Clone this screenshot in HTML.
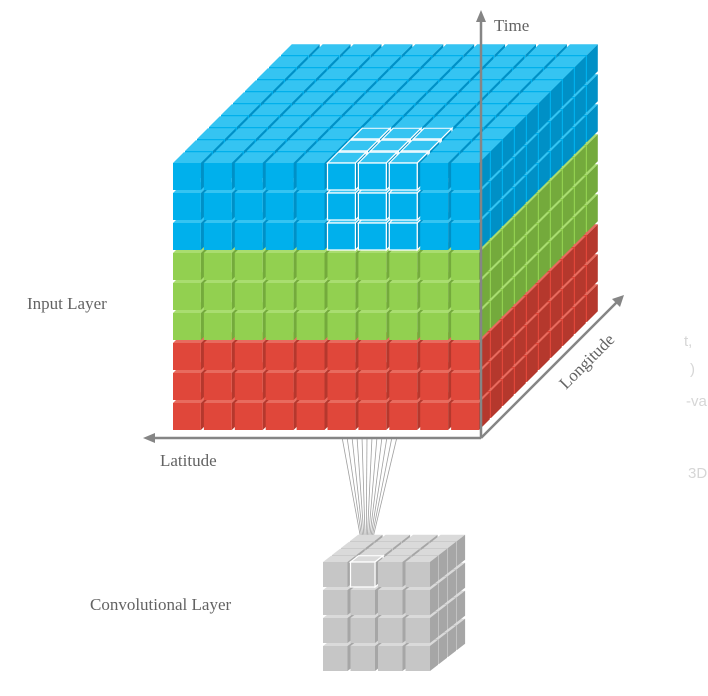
<!DOCTYPE html>
<html><head><meta charset="utf-8"><style>
html,body{margin:0;padding:0;background:#fff;width:708px;height:696px;overflow:hidden}
svg{display:block}
text{font-family:"Liberation Serif",serif;fill:#636363}
</style></head><body>
<svg id="s" width="708" height="696">
  <g id="big"></g>
  <g id="fan"></g>
  <g id="small"></g>
  <g stroke="#858585" stroke-width="2.5" fill="none">
    <line x1="481" y1="20" x2="481" y2="438"/>
    <line x1="152" y1="438" x2="481" y2="438"/>
    <line x1="481" y1="438" x2="617" y2="302"/>
  </g>
  <polygon points="481,10 476,22 486,22" fill="#858585"/>
  <polygon points="143,438 155,433 155,443" fill="#858585"/>
  <polygon points="624,295 612,299 620,307" fill="#858585"/>
  <text x="494" y="31" font-size="17">Time</text>
  <text x="160" y="466" font-size="17">Latitude</text>
  <text x="0" y="0" font-size="17" transform="translate(566,390) rotate(-45)">Longitude</text>
  <text x="27" y="309" font-size="17">Input Layer</text>
  <text x="90" y="610" font-size="17">Convolutional Layer</text>
  <g font-size="15">
    <text x="684" y="346" style="fill:#d6d6d6;font-family:'Liberation Sans',sans-serif">t,</text>
    <text x="690" y="374" style="fill:#d6d6d6;font-family:'Liberation Sans',sans-serif">)</text>
    <text x="686" y="406" style="fill:#d6d6d6;font-family:'Liberation Sans',sans-serif">-va</text>
    <text x="688" y="478" style="fill:#d6d6d6;font-family:'Liberation Sans',sans-serif">3D</text>
  </g>
</svg>
<script>
const NS="http://www.w3.org/2000/svg";
const layerColors=["blue","blue","blue","green","green","green","red","red","red"];
const highlightCols=[5,6,7];
const highlightRows=[0,1,2];
const highlightDepth=[0,1,2];
const pal={blue:["#00b0ec","#35c4f2","#0090c6"],green:["#92d050","#a9dd70","#74aa3c"],red:["#e0473a","#e86b5e","#b5382d"],gray:["#c6c6c6","#dadada","#a6a6a6"]};
function poly(g,pts,fill,stroke,name){
  const p=document.createElementNS(NS,"polygon");
  p.setAttribute("points",pts.map(q=>q[0].toFixed(1)+","+q[1].toFixed(1)).join(" "));
  p.setAttribute("fill",fill);
  if(stroke){p.setAttribute("stroke",stroke);p.setAttribute("stroke-width","1.2");}
  
  
  g.appendChild(p);
}
function cube(g,x,y,w,h,ex,ey,c,stroke,name){
  poly(g,[[x,y],[x+ex,y-ey],[x+w+ex,y-ey],[x+w,y]],c[1],stroke,name+"-top");
  poly(g,[[x+w,y],[x+w+ex,y-ey],[x+w+ex,y+h-ey],[x+w,y+h]],c[2],stroke,name+"-side");
  poly(g,[[x,y],[x+w,y],[x+w,y+h],[x,y+h]],c[0],stroke,name+"-front");
}
function drawBlock(g,X0,Y0,nc,nr,nd,px,py,dx,dy,colorOf,hl,name){
  const w=px-3,h=py-3,ex=dx*0.9,ey=dy*0.9;
  for(let d=nd-1;d>=0;d--)for(let r=nr-1;r>=0;r--)for(let c=0;c<nc;c++){
    if(!(d===0||r===0||c===nc-1))continue;
    const x=X0+c*px+d*dx, y=Y0+r*py-d*dy;
    const isH=hl(c,r,d);
    cube(g,x,y,w,h,ex,ey,pal[colorOf(r)],isH?"#ffffff":null,name);
  }
}
const big=document.getElementById("big");
drawBlock(big,173,163,10,9,10,30.9,30,12,12,r=>layerColors[r],
  (c,r,d)=>highlightCols.includes(c)&&highlightRows.includes(r)&&highlightDepth.includes(d),"input-cube");
const fan=document.getElementById("fan");
for(let i=0;i<12;i++){
  const l=document.createElementNS(NS,"line");
  l.setAttribute("x1",342+i*5);l.setAttribute("y1",437);
  l.setAttribute("x2",366);l.setAttribute("y2",567);
  l.setAttribute("stroke","#a0a0a0");l.setAttribute("stroke-width","0.8");
  
  
  fan.appendChild(l);
}
const small=document.getElementById("small");
drawBlock(small,323,562,4,4,4,27.5,28,9,7,()=> "gray",(c,r,d)=>c===1&&r===0&&d===0,"conv-cube");
</script>
</body></html>
